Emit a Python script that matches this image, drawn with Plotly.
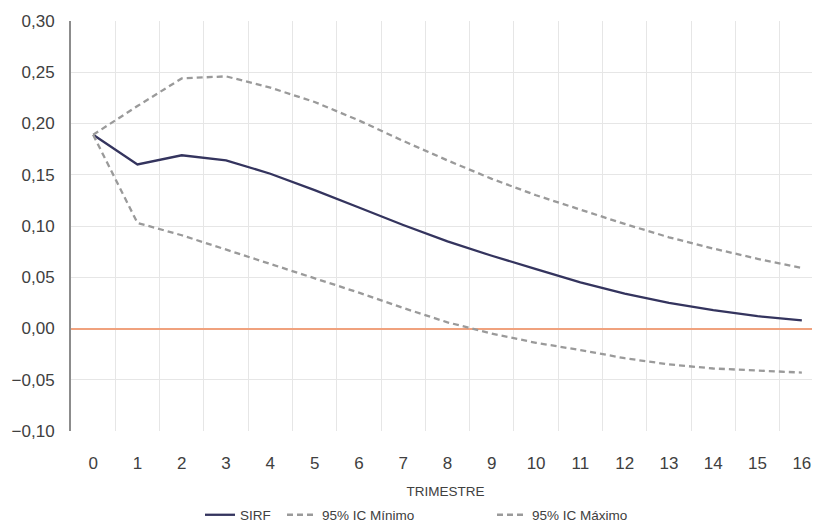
import plotly.graph_objects as go

trimestre = list(range(17))
tick_labels = [str(t) for t in trimestre]

sirf = [0.189, 0.160, 0.169, 0.164, 0.151, 0.135, 0.118, 0.101, 0.085, 0.071, 0.058,
        0.045, 0.034, 0.025, 0.018, 0.012, 0.008]
ic_min = [0.189, 0.103, 0.091, 0.077, 0.063, 0.049, 0.035, 0.020, 0.006, -0.005, -0.014,
          -0.021, -0.029, -0.035, -0.039, -0.041, -0.043]
ic_max = [0.189, 0.217, 0.244, 0.246, 0.235, 0.221, 0.203, 0.183, 0.164, 0.146, 0.130,
          0.116, 0.102, 0.089, 0.078, 0.068, 0.059]

y_ticks = [-0.10, -0.05, 0.00, 0.05, 0.10, 0.15, 0.20, 0.25, 0.30]

FONT = "Liberation Sans, Arial, sans-serif"
TXT = "#404040"
DASH = "6px,4px"

# the page body has an 8px default margin: figure is sized to the visible area
W, H = 812, 514

fig = go.Figure()
fig.add_trace(go.Scatter(x=trimestre, y=sirf, mode="lines", name="SIRF", legend="legend",
                         line=dict(color="#34345e", width=2.3)))
fig.add_trace(go.Scatter(x=trimestre, y=ic_min, mode="lines", name="95% IC Mínimo",
                         legend="legend2",
                         line=dict(color="#9a9a9a", width=2.3, dash=DASH)))
fig.add_trace(go.Scatter(x=trimestre, y=ic_max, mode="lines", name="95% IC Máximo",
                         legend="legend3",
                         line=dict(color="#9a9a9a", width=2.3, dash=DASH)))

half = [t + 0.5 for t in trimestre]

leg_common = dict(orientation="h", xref="container", yref="container", xanchor="left",
                  y=1 - (515 - 8) / H, yanchor="middle", font=dict(size=13.5, color=TXT),
                  itemwidth=30, bgcolor="rgba(0,0,0,0)")

fig.update_layout(
    width=W, height=H,
    margin=dict(l=63, r=0, t=13, b=91),
    paper_bgcolor="white", plot_bgcolor="white",
    separators=",.",
    font=dict(family=FONT, color=TXT, size=17),
    showlegend=True,
    legend=dict(x=(200 - 8) / W, **leg_common),
    legend2=dict(x=(282 - 8) / W, **leg_common),
    legend3=dict(x=(492 - 8) / W, **leg_common),
    xaxis=dict(
        range=[-0.5, 16.41], tickmode="array", tickvals=trimestre, ticktext=tick_labels,
        showgrid=False, zeroline=False, showline=False, ticks="",
        ticklabelstandoff=20, automargin=False,
        tickfont=dict(size=17, color=TXT),
        title=dict(text="TRIMESTRE", font=dict(size=13.5, color=TXT), standoff=14),
        minor=dict(tickmode="array", tickvals=[-0.5] + half, showgrid=True,
                   gridcolor="#e6e6e6", gridwidth=1, ticks=""),
    ),
    yaxis=dict(
        range=[-0.10, 0.30], tickmode="array", tickvals=y_ticks, tickformat=".2f",
        showgrid=True, gridcolor="#e6e6e6", gridwidth=1,
        zeroline=True, zerolinecolor="#f0a27e", zerolinewidth=2,
        showline=True, linecolor="#8c8c8c", linewidth=2, ticks="",
        ticklabelstandoff=11, automargin=False,
        tickfont=dict(size=17, color=TXT),
    ),
)

fig.write_html("out.html")
